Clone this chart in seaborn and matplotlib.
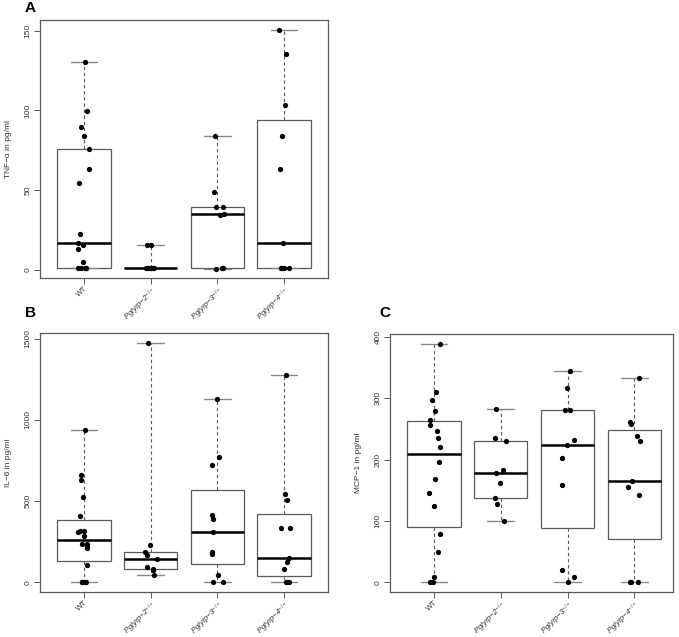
import numpy as np
import pandas as pd
import matplotlib
matplotlib.use("Agg")
import matplotlib.pyplot as plt
import seaborn as sns

# ---------------- data ----------------
groups = ["WT", "Pglyrp-2", "Pglyrp-3", "Pglyrp-4"]
tick_labels = ["WT", "Pglyrp−2$^{-/-}$", "Pglyrp−3$^{-/-}$", "Pglyrp−4$^{-/-}$"]

tnf_wt = [130.1, 99.4, 89.6, 84.3, 75.7, 63.2, 54.4, 22.4, 16.9, 15.5, 13.4, 5.2, 1, 1, 1, 1, 1]
tnf_p2 = [15.7, 15.7, 1, 1, 1, 1, 1, 1, 1]
tnf_p3 = [84.3, 49.2, 39.8, 39.8, 34.8, 34.3, 1, 1, 0.6]
tnf_p4 = [150.7, 135.6, 103.6, 84.3, 63.2, 16.7, 1, 1, 1, 1, 1]

il6_wt = [940, 658, 632, 523, 409, 315, 315, 307, 286, 239, 235, 218, 210, 107, 0, 0, 0, 0]
il6_p2 = [1475, 228, 189, 167, 142, 97, 80, 76, 43]
il6_p3 = [1130, 770, 724, 414, 393, 307, 185, 175, 47, 0, 0]
il6_p4 = [1276, 543, 506, 337, 337, 148, 128, 84, 0, 0, 0]

mcp_wt = [389, 310, 297, 279, 264, 257, 247, 235, 221, 196, 168, 145, 125, 79, 50, 9, 0, 0]
mcp_p2 = [282, 235, 231, 183, 179, 162, 137.5, 128, 100]
mcp_p3 = [344.6, 317, 281, 281, 232, 224, 202, 158, 19.6, 8.7, 0.5]
mcp_p4 = [333.7, 261, 258, 239, 231, 165, 155, 142, 0, 0, 0]

panels = [
    ("A", "TNF−α in pg/ml", [tnf_wt, tnf_p2, tnf_p3, tnf_p4], [0, 50, 100, 150]),
    ("B", "IL−6 in pg/ml", [il6_wt, il6_p2, il6_p3, il6_p4], [0, 500, 1000, 1500]),
    ("C", "MCP−1 in pg/ml", [mcp_wt, mcp_p2, mcp_p3, mcp_p4], [0, 100, 200, 300, 400]),
]

# ---------------- style ----------------
sns.set_style("white")
plt.rcParams["font.family"] = ["Liberation Sans", "DejaVu Sans"]
plt.rcParams["mathtext.fontset"] = "custom"
plt.rcParams["mathtext.rm"] = "Liberation Sans"
plt.rcParams["mathtext.it"] = "Liberation Sans:italic"

W, H = 679, 637
fig = plt.figure(figsize=(W / 100, H / 100), dpi=100)

def rect(x0, x1, y0, y1):
    return [x0 / W, 1 - y1 / H, (x1 - x0) / W, (y1 - y0) / H]

layout = {
    "A": dict(rect=rect(40, 328, 20, 278), xlim=(-0.66, 3.66), ylim=(-5.0, 156.7), letter=(25, 8)),
    "B": dict(rect=rect(40, 328, 333, 592), xlim=(-0.66, 3.66), ylim=(-59, 1534), letter=(25, 313)),
    "C": dict(rect=rect(390, 673, 334, 592), xlim=(-0.66, 3.58), ylim=(-15.6, 404.6), letter=(379, 313)),
}

edge = "#5a5a5a"
np.random.seed(3)

for letter, ylabel, series, yticks in panels:
    lay = layout[letter]
    ax = fig.add_axes(lay["rect"])
    rows = []
    for g, vals in zip(groups, series):
        for v in vals:
            rows.append((g, v))
    df = pd.DataFrame(rows, columns=["group", "value"])

    sns.boxplot(data=df, x="group", y="value", order=groups, ax=ax,
                whis=(0, 100), width=0.8, color="white", saturation=1,
                linecolor=edge, linewidth=0.9, fliersize=0,
                medianprops=dict(color="black", linewidth=1.8),
                whiskerprops=dict(linestyle=(0, (3, 2.5)), linewidth=0.8),
                capprops=dict(color="#888888", linewidth=1.0))
    sns.stripplot(data=df, x="group", y="value", order=groups, ax=ax,
                  color="black", size=3.8, jitter=0.1, zorder=4)

    ax.set_xlim(*lay["xlim"])
    ax.set_ylim(*lay["ylim"])
    ax.set_yticks(yticks)
    ax.set_yticklabels([str(t) for t in yticks], rotation=90, va="center",
                       fontsize=6, color="#333333")
    ax.set_xticks(range(len(groups)))
    ax.set_xticklabels(tick_labels, rotation=45, ha="right",
                       rotation_mode="anchor", fontsize=5.6, color="#333333")
    for t in ax.get_xticklabels()[1:]:
        t.set_fontstyle("italic")
    ax.tick_params(axis="both", direction="out", length=4, width=0.7,
                   color=edge, pad=2, left=True, bottom=True)
    ax.tick_params(axis="x", pad=1)
    ax.set_xlabel("")
    ax.set_ylabel(ylabel, fontsize=6, color="#333333", labelpad=9)
    for s in ax.spines.values():
        s.set_color(edge)
        s.set_linewidth(0.9)
        s.set_visible(True)
    lx, ly = lay["letter"]
    fig.text(lx / W, 1 - ly / H, letter, ha="left", va="center",
             fontsize=11, fontweight="bold", color="black")

fig.savefig("out.png", dpi=100)
